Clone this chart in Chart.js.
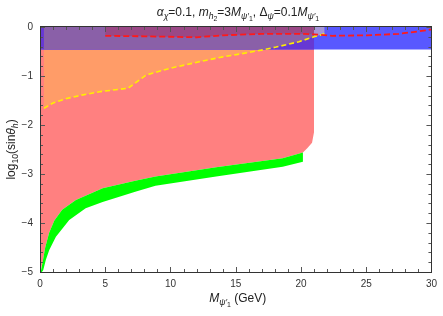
<!DOCTYPE html>
<html><head><meta charset="utf-8">
<script src="https://cdn.jsdelivr.net/npm/chart.js@4/dist/chart.umd.min.js"></script>
<style>html,body{margin:0;padding:0;background:#fff}#w{width:443px;height:316px}</style>
</head><body><div id="w"><canvas id="c" width="443" height="316"></canvas></div>
<script>
// ---- data ----
const xRange = [0, 30];
const yRange = [-5, 0];
const xTickStep = 5;
const yTickStep = 1;
// upper edge of the green band (= lower edge of red region)
const greenTopX = [0.05, 0.2, 0.4, 0.7, 1.1, 1.7, 2.75, 4.8, 7.3, 8.85, 13.5, 18.6, 20.15];
const greenTopY = [-5, -4.8, -4.5, -4.2, -3.95, -3.73, -3.53, -3.29, -3.14, -3.05, -2.86, -2.68, -2.56];
// lower edge of the green band
const greenBotX = [0.15, 0.25, 0.45, 0.71, 1.22, 2.24, 3.5, 4.8, 7.3, 8.85, 13.5, 18.6, 20.15];
const greenBotY = [-5, -4.96, -4.75, -4.55, -4.28, -3.94, -3.7, -3.57, -3.36, -3.24, -3.05, -2.85, -2.75];
// rounded corner of red region
const redCornerX = [20.5, 20.85, 21.0, 21.0];
const redCornerY = [-2.47, -2.36, -2.15, 0];
// yellow dashed curve
const yellowX = [0.3, 1, 2.04, 3.2, 4.58, 6.74, 8.14, 10, 12.2, 14, 16, 17.2, 18.1, 19.85, 21.0, 21.8];
const yellowY = [-1.66, -1.55, -1.46, -1.39, -1.32, -1.25, -0.98, -0.84, -0.71, -0.61, -0.52, -0.46, -0.41, -0.30, -0.20, -0.14];
// red dashed curve
const redX = [5, 8, 12, 14, 17, 20, 21, 22.4, 25, 27.5, 29, 30];
const redY = [-0.18, -0.19, -0.21, -0.17, -0.14, -0.14, -0.15, -0.18, -0.17, -0.14, -0.09, -0.05];
// blue band
const bandBottom = -0.46;
const bandTop = 0;
const redEdgeX = 21.0;

const FONT = "'Liberation Sans', Arial, Helvetica, sans-serif";
const pts = (xs, ys) => xs.map((x, i) => ({x, y: ys[i]}));

const greenTop = pts(greenTopX, greenTopY);
const greenBot = pts(greenBotX, greenBotY);
const yellow = pts(yellowX, yellowY);
const red = pts(redX, redY);

const pinkPoly = [{x: 0, y: 0}, {x: 0, y: -5}, ...greenTop, ...pts(redCornerX, redCornerY)];
const greenPoly = [...greenTop, ...greenBot.slice().reverse()];
const yEnd = yellow[yellow.length - 1];
const orangePoly = [...yellow, {x: yEnd.x, y: 0}, {x: yellow[0].x, y: 0}];
const bandWhite = [{x: 0, y: bandBottom}, {x: 30, y: bandBottom}, {x: 30, y: bandTop}, {x: 0, y: bandTop}];
const bandPink = [{x: 0, y: bandBottom}, {x: redEdgeX, y: bandBottom}, {x: redEdgeX, y: bandTop}, {x: 0, y: bandTop}];
const yInBand = yellow.filter(p => p.y >= bandBottom && p.x <= redEdgeX);
const bandOrange = [{x: yellow[0].x, y: bandBottom}, ...yInBand, {x: redEdgeX, y: bandTop}, {x: yellow[0].x, y: bandTop}];
const yAfter = yellow.filter(p => p.x >= redEdgeX);
const patchH = [...yAfter, {x: yEnd.x, y: bandTop}, {x: redEdgeX, y: bandTop}];
const redIn = red.filter(p => p.x <= redEdgeX);
const topDark = [...redIn, {x: redEdgeX, y: bandTop}, {x: redIn[0].x, y: bandTop}];

function poly(data, color) {
  return {data, backgroundColor: color, borderWidth: 0, borderColor: color, fill: 'shape', pointRadius: 0, tension: 0};
}
function dline(data, color, w, dash) {
  return {data, borderColor: color, borderWidth: w, borderDash: dash, fill: false, pointRadius: 0, tension: 0};
}

// rich text
function drawRich(ctx, parts, x, y, base) {
  const sizes = [base, base * 0.72, base * 0.58];
  const offs = [0, base * 0.27, base * 0.45];
  let w = 0;
  for (const p of parts) {
    ctx.font = (p.i ? 'italic ' : '') + sizes[p.l || 0] + 'px ' + FONT;
    p.w = ctx.measureText(p.t).width; w += p.w;
  }
  let cx = x - w / 2;
  ctx.textAlign = 'left'; ctx.textBaseline = 'alphabetic';
  for (const p of parts) {
    ctx.font = (p.i ? 'italic ' : '') + sizes[p.l || 0] + 'px ' + FONT;
    ctx.fillText(p.t, cx, y + offs[p.l || 0]);
    cx += p.w;
  }
}
const titleParts = [
  {t: 'α', i: 1}, {t: 'χ', i: 1, l: 1}, {t: '=0.1, '}, {t: 'm', i: 1}, {t: 'h', i: 1, l: 1}, {t: '2', l: 2},
  {t: '=3'}, {t: 'M', i: 1}, {t: 'ψ\u2032', i: 1, l: 1}, {t: '1', l: 2}, {t: ', Δ'}, {t: 'ψ', i: 1, l: 1},
  {t: '=0.1'}, {t: 'M', i: 1}, {t: 'ψ\u2032', i: 1, l: 1}, {t: '1', l: 2}
];
const xTitleParts = [{t: 'M', i: 1}, {t: 'ψ\u2032', i: 1, l: 1}, {t: '1', l: 2}, {t: ' (GeV)'}];
const yTitleParts = [{t: 'log'}, {t: '10', l: 1}, {t: '(sin'}, {t: 'θ', i: 1}, {t: 'h', i: 1, l: 1}, {t: ')'}];

const deco = {
  id: 'deco',
  afterDatasetsDraw(chart) {
    const {ctx, chartArea: a, scales: {x, y}} = chart;
    ctx.save();
    ctx.strokeStyle = '#555'; ctx.lineWidth = 1;
    ctx.beginPath();
    for (let v = xRange[0]; v <= xRange[1] + 1e-9; v += 1) {
      const px = Math.round(x.getPixelForValue(v)) + 0.5;
      const L = (v % 5 === 0) ? 5 : 3;
      ctx.moveTo(px, a.bottom); ctx.lineTo(px, a.bottom - L);
      ctx.moveTo(px, a.top); ctx.lineTo(px, a.top + L);
    }
    for (let k = 0; k <= 25; k++) {
      const v = -5 + k * 0.2;
      const py = Math.round(y.getPixelForValue(v)) + 0.5;
      const L = (k % 5 === 0) ? 5 : 3;
      ctx.moveTo(a.left, py); ctx.lineTo(a.left + L, py);
      ctx.moveTo(a.right, py); ctx.lineTo(a.right - L, py);
    }
    ctx.stroke();
    ctx.strokeStyle = '#333';
    ctx.strokeRect(Math.round(a.left) + 0.5, Math.round(a.top) - 0.5, Math.round(a.right - a.left), Math.round(a.bottom - a.top) + 1);
    ctx.fillStyle = '#222';
    drawRich(ctx, titleParts, 238, 16, 12);
    drawRich(ctx, xTitleParts, (a.left + a.right) / 2 + 2, 302, 12);
    ctx.translate(15, (a.top + a.bottom) / 2);
    ctx.rotate(-Math.PI / 2);
    drawRich(ctx, yTitleParts, 0, 0, 12);
    ctx.restore();
  }
};

new Chart(document.getElementById('c'), {
  type: 'line',
  data: {datasets: [
    dline(red, '#ff1a1a', 1.8, [6, 3]),
    dline(yellow, '#ffee00', 1.6, [5, 3]),
    poly(topDark, 'rgb(154,72,134)'),
    poly(patchH, 'rgb(165,150,215)'),
    poly(bandOrange, 'rgb(138,96,168)'),
    poly(bandPink, 'rgb(102,56,212)'),
    poly(bandWhite, 'rgb(88,88,255)'),
    poly(orangePoly, 'rgb(255,156,104)'),
    poly(greenPoly, 'rgb(0,255,0)'),
    poly(pinkPoly, 'rgb(255,128,128)')
  ]},
  options: {
    responsive: false, animation: false, devicePixelRatio: 1,
    layout: {padding: {top: 27, right: 8, left: 0, bottom: 0}},
    plugins: {legend: {display: false}, tooltip: {enabled: false}, title: {display: false}},
    scales: {
      x: {type: 'linear', min: xRange[0], max: xRange[1],
          afterFit(s) { s.height = 44; },
          ticks: {stepSize: xTickStep, padding: 6, color: '#333', maxRotation: 0, font: {family: FONT, size: 10}},
          grid: {display: false, drawTicks: false}, border: {display: false}},
      y: {type: 'linear', min: yRange[0], max: yRange[1],
          afterFit(s) { s.width = 40; },
          ticks: {stepSize: yTickStep, padding: 7, color: '#333', font: {family: FONT, size: 10},
                  callback: v => v < 0 ? '\u2212' + (-v) : String(v)},
          grid: {display: false, drawTicks: false}, border: {display: false}}
    }
  },
  plugins: [deco]
});
</script></body></html>
